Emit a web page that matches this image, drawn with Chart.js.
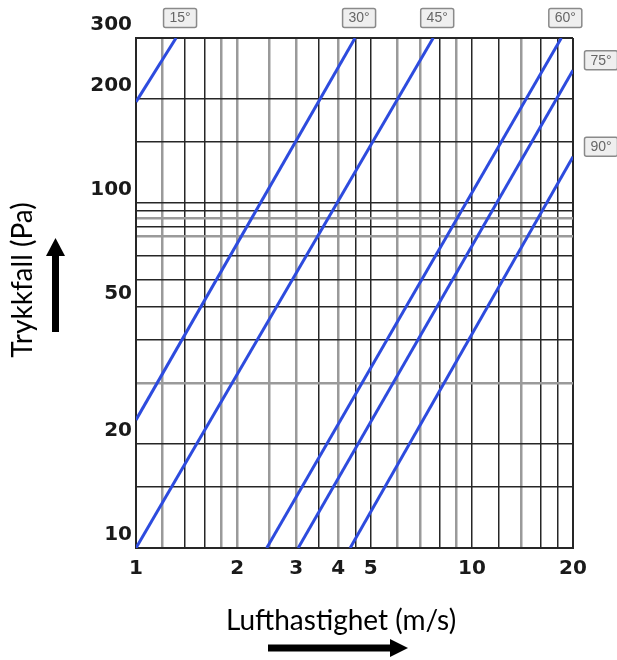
<!DOCTYPE html>
<html>
<head>
<meta charset="utf-8">
<script src="https://cdn.jsdelivr.net/npm/chart.js@4"></script>
<style>
  html, body { margin: 0; padding: 0; background: #fff; }
  #wrap { width: 617px; height: 660px; }
</style>
</head>
<body>
<div id="wrap"><canvas id="c" width="617" height="660"></canvas></div>
<script>
// ---- data ----
const angleLabels   = ['15°', '30°', '45°', '60°', '75°', '90°'];
const speedStart    = [1.00, 1.00, 1.00, 2.45, 3.04, 4.34];   // m/s
const pressureStart = [196, 23.5, 10, 10, 10, 10];            // Pa
const speedEnd      = [1.316, 4.49, 7.67, 18.46, 20, 20];     // m/s
const pressureEnd   = [300, 300, 300, 300, 242, 136];         // Pa

const xGridValues = [1, 1.2, 1.4, 1.6, 1.8, 2, 2.5, 3, 3.5, 4, 4.5, 5, 6, 7, 8, 9, 10, 12, 14, 16, 18, 20];
const xGrayValues = [1.2, 1.8, 2, 2.5, 3, 4, 6, 7, 9, 14];
const xTickLabels = [1, 2, 3, 4, 5, 10, 20];

const yGridValues = [10, 15, 20, 30, 40, 50, 60, 70, 80, 85, 90, 95, 100, 150, 200, 300];
const yGrayValues = [30, 80, 90];
const yTickLabels = [10, 20, 50, 100, 200, 300];

const xTitle = 'Lufthastighet (m/s)';
const yTitle = 'Trykkfall (Pa)';

// ---- build datasets ----
const lineColor = 'rgb(45,75,222)';
const datasets = angleLabels.map((a, i) => ({
  label: a,
  data: [{ x: speedStart[i], y: pressureStart[i] }, { x: speedEnd[i], y: pressureEnd[i] }],
  borderColor: lineColor,
  borderWidth: 3,
  pointRadius: 0,
  fill: false,
  tension: 0
}));

const DARK = '#262626', GRAY = '#9a9a9a';
function gridColor(values, grays) {
  return ctx => (grays.includes(ctx.tick && ctx.tick.value) ? GRAY : DARK);
}
function gridWidth(values, grays, minV, maxV) {
  return ctx => {
    const v = ctx.tick && ctx.tick.value;
    if (v === minV || v === maxV) return 2;
    return grays.includes(v) ? 2.5 : 1.5;
  };
}

const tickFont = { family: 'DejaVu Sans', weight: 'bold', size: 20 };

const overlay = {
  id: 'overlay',
  afterDraw(chart) {
    const ctx = chart.ctx;
    const xs = chart.scales.x, ys = chart.scales.y;
    ctx.save();
    // angle boxes, anchored to line ends
    ctx.font = '14px "Liberation Sans"';
    ctx.textAlign = 'center';
    ctx.textBaseline = 'middle';
    angleLabels.forEach((a, i) => {
      let cx, cy;
      const px = xs.getPixelForValue(speedEnd[i]);
      const py = ys.getPixelForValue(pressureEnd[i]);
      if (pressureEnd[i] >= 300) { cx = px + 4; cy = 18; }
      else { cx = 601; cy = py - 10; }
      const w = 33, h = 19;
      ctx.fillStyle = '#efefef';
      ctx.strokeStyle = '#8a8a8a';
      ctx.lineWidth = 1.5;
      ctx.beginPath();
      if (ctx.roundRect) ctx.roundRect(cx - w / 2, cy - h / 2, w, h, 2); else ctx.rect(cx - w / 2, cy - h / 2, w, h);
      ctx.fill(); ctx.stroke();
      ctx.fillStyle = '#666';
      ctx.fillText(a, cx, cy + 0.5);
    });

    // titles fitted to measured width
    function fitFont(text, width) {
      ctx.font = '100px Lato';
      const w = ctx.measureText(text).width;
      return Math.round(100 * width / w);
    }
    ctx.fillStyle = '#000';
    ctx.textBaseline = 'alphabetic';
    ctx.textAlign = 'center';
    let fs = fitFont(xTitle, 232);
    ctx.font = fs + 'px Lato';
    ctx.fillText(xTitle, 341, 630);

    fs = fitFont(yTitle, 154);
    ctx.font = fs + 'px Lato';
    ctx.save();
    ctx.translate(32, 280);
    ctx.rotate(-Math.PI / 2);
    ctx.fillText(yTitle, 0, 0);
    ctx.restore();

    // arrows
    ctx.fillStyle = '#000';
    ctx.fillRect(52, 254, 7, 78);
    ctx.beginPath();
    ctx.moveTo(55.5, 238); ctx.lineTo(65, 256); ctx.lineTo(46, 256); ctx.closePath(); ctx.fill();
    ctx.fillRect(268, 644.5, 124, 7);
    ctx.beginPath();
    ctx.moveTo(408, 648); ctx.lineTo(390, 639); ctx.lineTo(390, 657); ctx.closePath(); ctx.fill();
    ctx.restore();
  }
};

new Chart(document.getElementById('c'), {
  type: 'line',
  data: { datasets },
  options: {
    responsive: false,
    animation: false,
    devicePixelRatio: 1,
    layout: { padding: { top: 38, right: 44, left: 0, bottom: 0 } },
    plugins: { legend: { display: false }, tooltip: { enabled: false }, title: { display: false } },
    scales: {
      x: {
        type: 'logarithmic',
        min: 1, max: 20,
        afterBuildTicks: s => { s.ticks = xGridValues.map(v => ({ value: v })); },
        afterFit: s => { s.height = 112; },
        grid: { color: gridColor(xGridValues, xGrayValues), lineWidth: gridWidth(xGridValues, xGrayValues, 1, 20), drawTicks: false },
        border: { display: true, color: DARK, width: 2 },
        ticks: {
          autoSkip: false, maxRotation: 0, padding: 9, color: '#1a1a1a', font: tickFont,
          callback: v => (xTickLabels.includes(v) ? String(v) : '')
        }
      },
      y: {
        type: 'logarithmic',
        min: 10, max: 300,
        afterBuildTicks: s => { s.ticks = yGridValues.map(v => ({ value: v })); },
        afterFit: s => { s.width = 136; },
        grid: { color: gridColor(yGridValues, yGrayValues), lineWidth: gridWidth(yGridValues, yGrayValues, 10, 300), drawTicks: false },
        border: { display: true, color: DARK, width: 2 },
        ticks: {
          autoSkip: false, padding: 4, labelOffset: -13, color: '#1a1a1a', font: tickFont,
          callback: v => (yTickLabels.includes(v) ? String(v) : '')
        }
      }
    }
  },
  plugins: [overlay]
});
</script>
</body>
</html>
